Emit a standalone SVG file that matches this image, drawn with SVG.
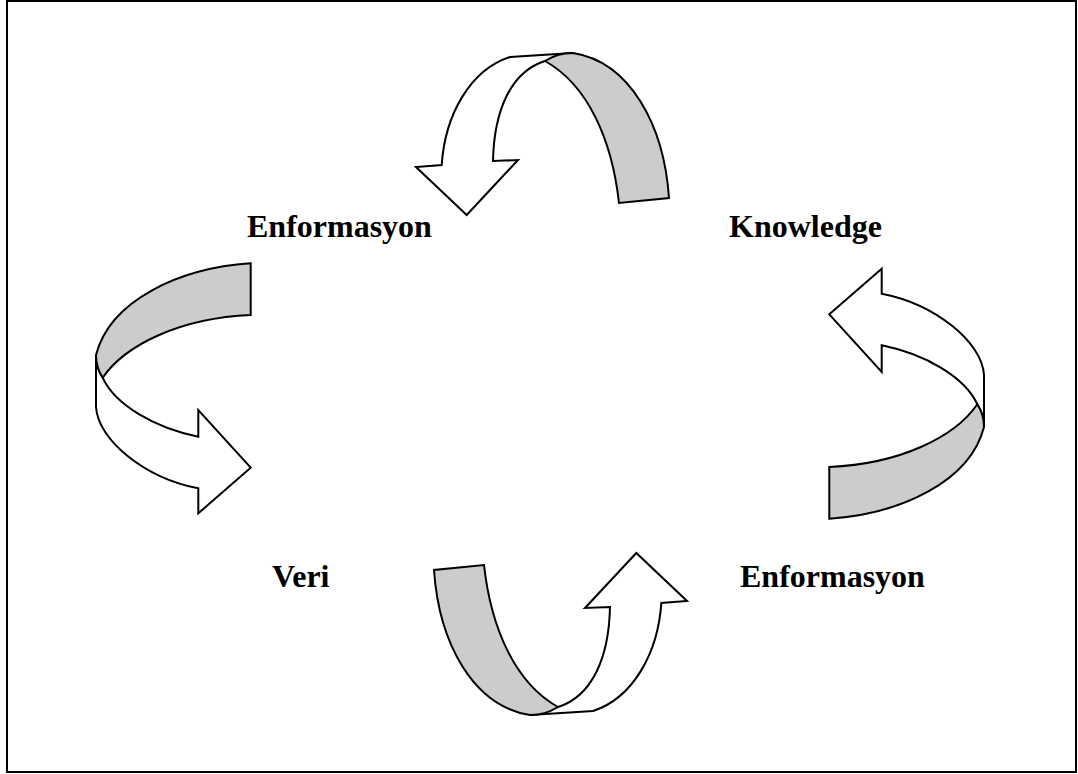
<svg xmlns="http://www.w3.org/2000/svg" width="1078" height="774" viewBox="0 0 1078 774">
<style>
.w{fill:#ffffff;stroke:#000;stroke-width:2;stroke-linejoin:miter}
.g{fill:#cccccc;stroke:#000;stroke-width:2;stroke-linejoin:miter}
.t{font-family:"Liberation Serif","Times New Roman",serif;font-weight:bold;font-size:32px;fill:#000}
</style>
<defs>
<g id="arcTop">
<path class="w" d="M510,57 L573,53 L545,61 C 510,72 494,112 493,161 L518,160 L466.7,215 L416,167 L441.7,165 C 445,115 470,70 510,57 Z"/>
<path class="g" d="M545,61 C 555,55 562,53 573,53 C 630,62 664,125 669,198 L619,203 C 612,140 588,85 545,61 Z"/>
</g>
<g id="arcLeft">
<path class="w" d="M96,355 L96,407 C 98,440 145,478 198.3,488.3 L198.3,513.3 L250.7,467.7 L198.3,410 L198.3,436.7 C 155,428 115,405 102.7,377.7 C 99,372 96,365 96,355 Z"/>
<path class="g" d="M250.7,263.3 C 180,268 110,300 96,355 C 96,365 99,372 102.7,377.7 C 125,345 180,318 250.7,315 Z"/>
</g>
</defs>
<rect x="7" y="1" width="1069" height="771" fill="#ffffff" stroke="#000" stroke-width="2"/>
<g id="connectors">
<use href="#arcTop"/>
<use href="#arcTop" transform="rotate(180 551.5 384)"/>
<use href="#arcLeft"/>
<use href="#arcLeft" transform="rotate(180 540 391)"/>
</g>
<g id="node-enformasyon-top"><text class="t" x="247" y="237">Enformasyon</text></g>
<g id="node-knowledge"><text class="t" x="729" y="237">Knowledge</text></g>
<g id="node-veri"><text class="t" x="272" y="587">Veri</text></g>
<g id="node-enformasyon-bottom"><text class="t" x="740" y="587">Enformasyon</text></g>
</svg>
